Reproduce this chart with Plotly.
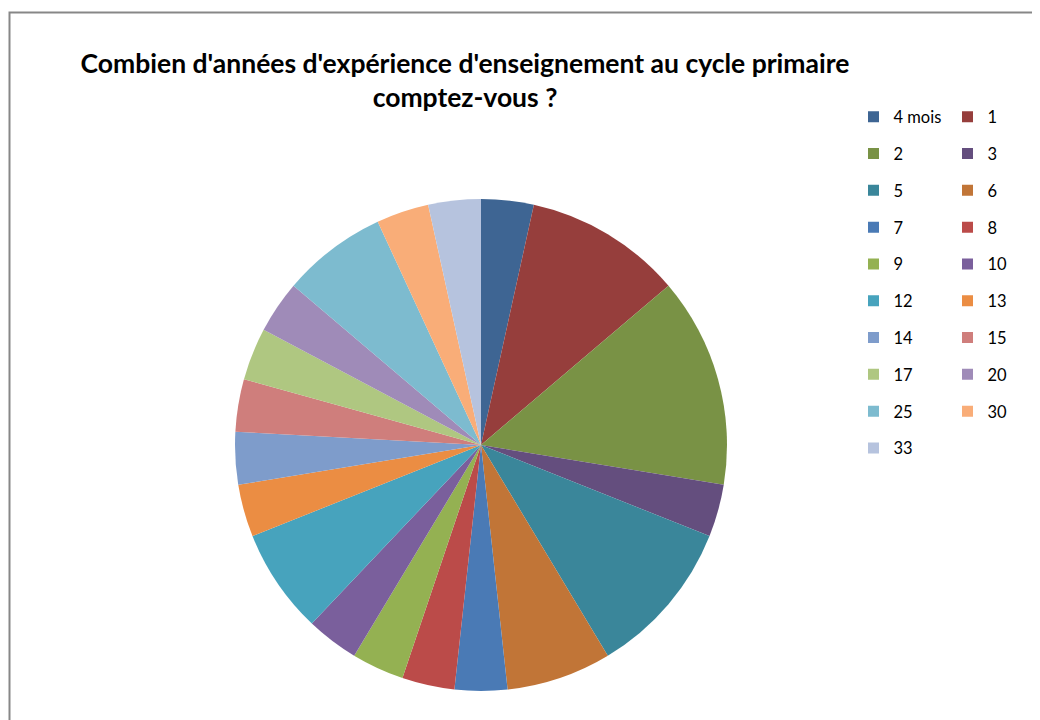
import plotly.graph_objects as go

labels = ["4 mois", "1", "2", "3", "5", "6", "7", "8", "9", "10",
          "12", "13", "14", "15", "17", "20", "25", "30", "33"]
values = [1, 3, 4, 1, 3, 2, 1, 1, 1, 1, 2, 1, 1, 1, 1, 1, 2, 1, 1]
colors = ["#3E6593", "#963E3C", "#799245", "#644E7E", "#3A869A", "#C17537",
          "#4A7AB5", "#BB4B49", "#94B152", "#7A5F9C", "#47A3BD", "#EB8D43",
          "#7E9CCB", "#CF7E7C", "#AFC781", "#9F8BB8", "#7DBBCF", "#F9AD78",
          "#B6C3DE"]
title_text = "Combien d'années d'expérience d'enseignement au cycle primaire<br>comptez-vous ?"

W, H = 1040, 720
OFF = 8  # page body margin
cx, cy, r = 481 - OFF, 445 - OFF, 246

fig = go.Figure()
fig.add_trace(go.Pie(
    labels=labels, values=values, sort=False, direction="clockwise",
    rotation=0, textinfo="none", showlegend=False,
    marker=dict(colors=colors, line=dict(width=0)),
    domain=dict(x=[(cx - r) / W, (cx + r) / W],
                y=[1 - (cy + r) / H, 1 - (cy - r) / H]),
))

# legend entries in two columns
for i, (lab, col) in enumerate(zip(labels, colors)):
    fig.add_trace(go.Scatter(
        x=[None], y=[None], mode="markers", name=lab,
        marker=dict(symbol="square", size=11, color=col),
        legendgroup=lab, showlegend=True,
        legend="legend" if i % 2 == 0 else "legend2",
    ))

legend_common = dict(
    font=dict(family="Lato, Open Sans, sans-serif", size=16.5, color="#000000"),
    bgcolor="rgba(0,0,0,0)", borderwidth=0, tracegroupgap=12.35,
    xanchor="left", yanchor="top", orientation="v",
)

fig.update_layout(
    width=W, height=H,
    margin=dict(l=0, r=0, t=0, b=0),
    paper_bgcolor="white", plot_bgcolor="white",
    xaxis=dict(visible=False), yaxis=dict(visible=False),
    title=dict(text=title_text, x=(465 - OFF) / W, xanchor="center",
               y=1 - 65 / H, yanchor="top",
               font=dict(family="Lato, Open Sans, sans-serif", size=26.5,
                         color="#000000", weight=700)),
    legend=dict(x=845.5 / W, y=1 - 91.5 / H, **legend_common),
    legend2=dict(x=939.5 / W, y=1 - 91.5 / H, **legend_common),
    shapes=[dict(type="rect", xref="paper", yref="paper",
                 x0=(9.5 - OFF) / W, x1=1.05, y0=-0.05, y1=1 - (12.5 - OFF) / H,
                 line=dict(color="#878787", width=2), fillcolor="rgba(0,0,0,0)",
                 layer="above")],
)

fig.write_html("out.html")
